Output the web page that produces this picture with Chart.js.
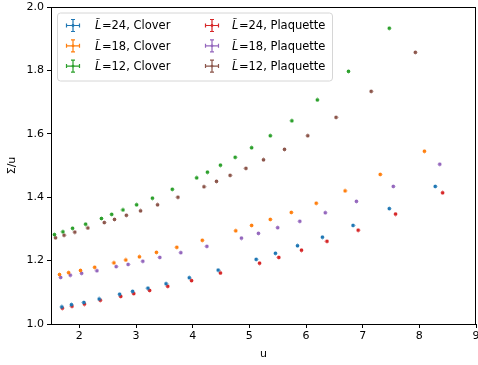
<!DOCTYPE html>
<html>
<head>
<meta charset="utf-8">
<script src="https://cdn.jsdelivr.net/npm/chart.js@4.4.1/dist/chart.umd.min.js"></script>
<style>
  html, body { margin: 0; padding: 0; background: #fff; }
  #wrap { width: 478px; height: 365px; }
</style>
</head>
<body>
<div id="wrap"><canvas id="chart" width="478" height="365"></canvas></div>
<script>
// tick marks
const xTicks = [2, 3, 4, 5, 6, 7, 8, 9];
const yTicks = [1.0, 1.2, 1.4, 1.6, 1.8, 2.0];

// L=24 Clover
const u24Clover = [1.69, 1.86, 2.08, 2.35, 2.71, 2.94, 3.21, 3.53, 3.94, 4.45, 5.12, 5.46, 5.85, 6.29, 6.83, 7.47, 8.28];
const s24Clover = [1.054, 1.061, 1.068, 1.079, 1.094, 1.103, 1.113, 1.127, 1.146, 1.170, 1.204, 1.223, 1.247, 1.274, 1.311, 1.364, 1.434];
// L=18 Clover
const u18Clover = [1.65, 1.81, 2.02, 2.27, 2.61, 2.82, 3.06, 3.36, 3.72, 4.17, 4.76, 5.04, 5.37, 5.74, 6.18, 6.69, 7.31, 8.09];
const s18Clover = [1.156, 1.162, 1.169, 1.179, 1.193, 1.202, 1.212, 1.226, 1.242, 1.264, 1.294, 1.311, 1.330, 1.352, 1.381, 1.420, 1.472, 1.545];
// L=12 Clover
const u12Clover = [1.56, 1.71, 1.88, 2.11, 2.39, 2.57, 2.77, 3.01, 3.29, 3.64, 4.07, 4.26, 4.49, 4.75, 5.04, 5.37, 5.75, 6.20, 6.75, 7.47];
const s12Clover = [1.282, 1.291, 1.302, 1.315, 1.333, 1.346, 1.360, 1.376, 1.397, 1.425, 1.461, 1.479, 1.501, 1.526, 1.556, 1.594, 1.641, 1.707, 1.797, 1.933];
// L=24 Plaquette
const u24Plaq = [1.70, 1.87, 2.09, 2.37, 2.73, 2.96, 3.24, 3.56, 3.98, 4.49, 5.18, 5.52, 5.92, 6.37, 6.92, 7.58, 8.41];
const s24Plaq = [1.050, 1.056, 1.063, 1.075, 1.087, 1.096, 1.106, 1.119, 1.137, 1.161, 1.192, 1.210, 1.233, 1.261, 1.296, 1.347, 1.414];
// L=18 Plaquette
const u18Plaq = [1.67, 1.84, 2.04, 2.31, 2.65, 2.86, 3.12, 3.42, 3.79, 4.25, 4.86, 5.16, 5.50, 5.89, 6.34, 6.89, 7.54, 8.36];
const s18Plaq = [1.147, 1.154, 1.160, 1.168, 1.181, 1.188, 1.198, 1.210, 1.225, 1.245, 1.271, 1.286, 1.304, 1.324, 1.351, 1.387, 1.434, 1.504];
// L=12 Plaquette
const u12Plaq = [1.58, 1.73, 1.92, 2.15, 2.44, 2.62, 2.83, 3.08, 3.38, 3.74, 4.20, 4.42, 4.66, 4.94, 5.25, 5.62, 6.03, 6.53, 7.15, 7.93];
const s12Plaq = [1.272, 1.280, 1.290, 1.303, 1.320, 1.330, 1.343, 1.357, 1.376, 1.400, 1.433, 1.450, 1.469, 1.491, 1.518, 1.551, 1.594, 1.652, 1.734, 1.857];

const seriesSizes = ['24', '18', '12', '24', '18', '12'];
const seriesKinds = ['Clover', 'Clover', 'Clover', 'Plaquette', 'Plaquette', 'Plaquette'];
const seriesU = [u24Clover, u18Clover, u12Clover, u24Plaq, u18Plaq, u12Plaq];
const seriesS = [s24Clover, s18Clover, s12Clover, s24Plaq, s18Plaq, s12Plaq];
const seriesColors = ['#1f77b4', '#ff7f0e', '#2ca02c', '#d62728', '#9467bd', '#8c564b'];

const FONT = "'DejaVu Sans', sans-serif";

// tiny errorbar-like marker: solid 3x3 with faint arms
function makeMarker(color) {
    const c = document.createElement('canvas');
    c.width = 5; c.height = 5;
    const g = c.getContext('2d');
    g.fillStyle = color;
    g.globalAlpha = 0.35;
    g.fillRect(0, 2, 5, 1);
    g.fillRect(2, 0, 1, 5);
    g.globalAlpha = 1;
    g.fillRect(1, 1, 3, 3);
    return c;
}

const datasets = seriesU.map((us, i) => ({
    label: seriesSizes[i] + ', ' + seriesKinds[i],
    data: us.map((u, j) => ({ x: u, y: seriesS[i][j] })),
    pointStyle: makeMarker(seriesColors[i]),
    borderColor: seriesColors[i],
    backgroundColor: seriesColors[i],
    showLine: false
}));

// legend drawn inside the axes, two columns like matplotlib
const boxLegend = {
    id: 'boxLegend',
    afterDraw(chart) {
        const ctx = chart.ctx;
        const a = chart.chartArea;
        ctx.save();
        // full frame
        ctx.strokeStyle = '#000';
        ctx.lineWidth = 1;
        ctx.strokeRect(a.left + 0.5, a.top + 0.5, a.right - a.left - 1, a.bottom - a.top);
        const bx = a.left + 6.5, by = a.top + 6, bw = 275, bh = 68, r = 3;
        ctx.beginPath();
        ctx.moveTo(bx + r, by);
        ctx.arcTo(bx + bw, by, bx + bw, by + bh, r);
        ctx.arcTo(bx + bw, by + bh, bx, by + bh, r);
        ctx.arcTo(bx, by + bh, bx, by, r);
        ctx.arcTo(bx, by, bx + bw, by, r);
        ctx.closePath();
        ctx.fillStyle = 'rgba(255,255,255,0.8)';
        ctx.fill();
        ctx.strokeStyle = '#d6d6d6';
        ctx.stroke();

        const colGlyph = [73, 212], colText = [95, 232];
        for (let i = 0; i < 6; i++) {
            const col = Math.floor(i / 3), row = i % 3;
            const cy = a.top + 18.5 + row * 20.3;
            const gx = colGlyph[col];
            ctx.strokeStyle = seriesColors[i];
            ctx.fillStyle = seriesColors[i];
            ctx.lineWidth = 1.2;
            ctx.beginPath();
            ctx.moveTo(gx - 6.5, cy); ctx.lineTo(gx + 6.5, cy);
            ctx.moveTo(gx - 6.5, cy - 2); ctx.lineTo(gx - 6.5, cy + 2);
            ctx.moveTo(gx + 6.5, cy - 2); ctx.lineTo(gx + 6.5, cy + 2);
            ctx.moveTo(gx, cy - 6); ctx.lineTo(gx, cy + 6);
            ctx.moveTo(gx - 2, cy - 6); ctx.lineTo(gx + 2, cy - 6);
            ctx.moveTo(gx - 2, cy + 6); ctx.lineTo(gx + 2, cy + 6);
            ctx.stroke();
            ctx.beginPath();
            ctx.arc(gx, cy, 1.4, 0, Math.PI * 2);
            ctx.fill();

            ctx.fillStyle = '#000';
            ctx.textBaseline = 'middle';
            ctx.textAlign = 'left';
            ctx.font = 'italic 11.5px ' + FONT;
            const lt = 'L\u0303';
            ctx.fillText(lt, colText[col], cy + 1);
            const w = ctx.measureText(lt).width;
            ctx.font = '11.5px ' + FONT;
            ctx.fillText('=' + datasets[i].label, colText[col] + w + 0.5, cy + 1);
        }
        ctx.restore();
    }
};

new Chart(document.getElementById('chart'), {
    type: 'scatter',
    data: { datasets: datasets },
    options: {
        responsive: false,
        animation: false,
        layout: { autoPadding: false, padding: { top: 7, right: 2, left: 0, bottom: 0 } },
        plugins: {
            legend: { display: false },
            tooltip: { enabled: false }
        },
        scales: {
            x: {
                type: 'linear',
                min: 1.5,
                max: 9,
                afterBuildTicks: s => { s.ticks = xTicks.map(v => ({ value: v })); },
                afterFit: s => { s.height = 41; s.paddingLeft = 0; s.paddingRight = 0; },
                grid: { drawOnChartArea: false, drawTicks: true, tickLength: 4, tickColor: '#000', tickWidth: 1 },
                border: { display: true, color: '#000', width: 1 },
                ticks: { color: '#000', padding: 2, font: { family: FONT, size: 11 }, maxRotation: 0, callback: v => String(v) },
                title: { display: true, text: 'u', color: '#000', font: { family: FONT, size: 11 }, padding: { top: 0, bottom: 4 } }
            },
            y: {
                type: 'linear',
                min: 1.0,
                max: 2.0,
                afterBuildTicks: s => { s.ticks = yTicks.map(v => ({ value: v })); },
                afterFit: s => { s.width = 51; s.paddingTop = 0; s.paddingBottom = 0; },
                grid: { drawOnChartArea: false, drawTicks: true, tickLength: 4, tickColor: '#000', tickWidth: 1 },
                border: { display: true, color: '#000', width: 1 },
                ticks: { color: '#000', padding: 3, font: { family: FONT, size: 11 }, callback: v => v.toFixed(1) },
                title: { display: true, text: '\u03a3/u', color: '#000', font: { family: FONT, size: 11 }, padding: { top: 6, bottom: 0 } }
            }
        }
    },
    plugins: [boxLegend]
});
</script>
</body>
</html>
